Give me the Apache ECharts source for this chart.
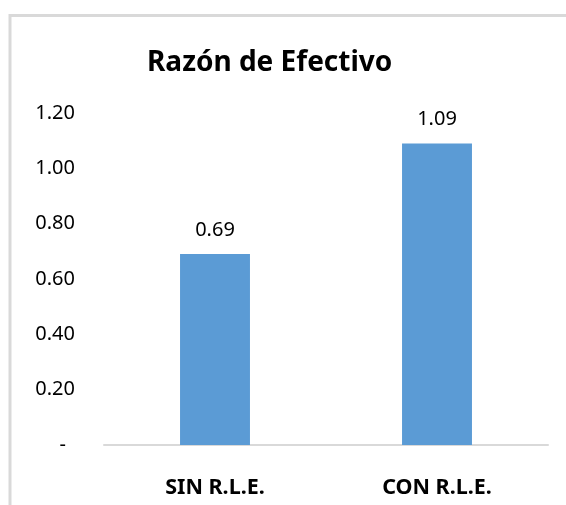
<!DOCTYPE html>
<html>
<head>
<meta charset="utf-8">
<script src="https://cdn.jsdelivr.net/npm/echarts@6/dist/echarts.min.js"></script>
<style>
    html, body { margin: 0; padding: 0; background: #ffffff; }
    #chart { width: 566px; height: 505px; }
</style>
</head>
<body>
<div id="chart"></div>
<script>
    var categories = ['SIN R.L.E.', 'CON R.L.E.'];
    var values = [0.69, 1.09];
    var yTicks = [0, 0.2, 0.4, 0.6, 0.8, 1.0, 1.2];

    var font = '"Noto Sans", "Open Sans", sans-serif';
    var chart = echarts.init(document.getElementById('chart'));

    var options = {
        animation: false,
        textStyle: { fontFamily: font },
        title: {
            text: 'Razón de Efectivo',
            left: 142,
            top: 44,
            textStyle: { fontFamily: font, fontSize: 28, fontWeight: 'bold', color: '#000000' }
        },
        graphic: [{
            type: 'rect',
            shape: { x: 10, y: 15.5, width: 700, height: 700 },
            style: { fill: 'none', stroke: '#d9d9d9', lineWidth: 3 },
            silent: true
        }],
        grid: { left: 104, right: 18, top: 113, bottom: 60 },
        xAxis: {
            type: 'category',
            data: categories,
            axisLine: { lineStyle: { color: '#d9d9d9', width: 2 } },
            axisTick: { show: false },
            axisLabel: { color: '#000000', fontSize: 21.5, fontWeight: 'bold', margin: 32, fontFamily: font }
        },
        yAxis: {
            type: 'value',
            min: yTicks[0],
            max: yTicks[yTicks.length - 1],
            interval: 0.2,
            axisLine: { show: false },
            axisTick: { show: false },
            splitLine: { show: false },
            axisLabel: {
                color: '#000000',
                fontSize: 20,
                margin: 29,
                fontFamily: font,
                formatter: function (v) {
                    return v === 0 ? '{d|-}' : v.toFixed(2);
                },
                rich: { d: { fontSize: 20, padding: [0, 9, 0, 0], color: '#000000', fontFamily: font } }
            }
        },
        series: [{
            type: 'bar',
            data: values,
            barWidth: '31.5%',
            itemStyle: { color: '#5b9bd5' },
            label: {
                show: true,
                position: 'top',
                distance: 14,
                color: '#000000',
                fontSize: 20,
                fontFamily: font,
                formatter: function (p) { return p.value.toFixed(2); }
            }
        }]
    };

    chart.setOption(options);
</script>
</body>
</html>
